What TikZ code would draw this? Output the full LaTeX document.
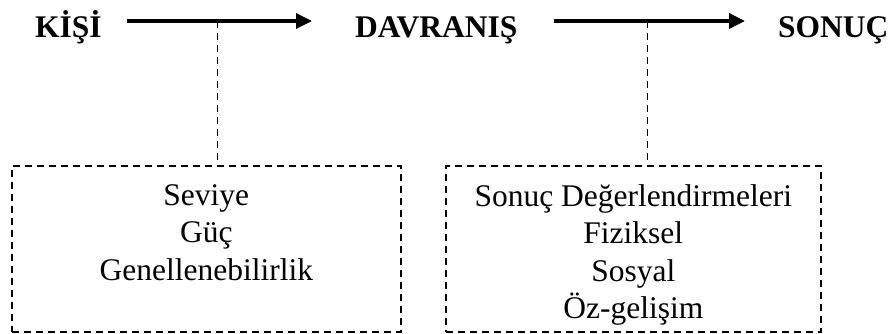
\documentclass[tikz,border=0pt]{standalone}
\usepackage{fontspec}
\setmainfont{Liberation Serif}
\usetikzlibrary{arrows.meta}
\begin{document}
\begin{tikzpicture}[x=1pt,y=-1pt,
  stage/.style={font=\fontsize{31.5}{37}\selectfont\bfseries, inner sep=0pt, anchor=base west},
  flow/.style={line width=3.4pt, -{Triangle[length=16pt,width=15pt]}},
  link/.style={line width=1.6pt, dash pattern=on 7pt off 5pt},
  groupbox/.style={draw, line width=1.6pt, dash pattern=on 7pt off 5pt, inner sep=0pt, anchor=north west},
  items/.style={font=\fontsize{31.5}{37.5}\selectfont, align=center, inner sep=0pt, anchor=north}]
  \useasboundingbox (0,0) rectangle (892,333);

  % stages of the chain
  \node[stage] (kisi) at (35,37) {KİŞİ};
  \node[stage] (davranis) at (355,37) {DAVRANIŞ};
  \node[stage] (sonuc) at (778,37) {SONUÇ};

  % dashed boxes of factors
  \node[groupbox, minimum width=389pt, minimum height=166pt] (kisibox) at (11,165) {};
  \node[groupbox, minimum width=375pt, minimum height=166pt] (sonucbox) at (445,165) {};

  \node[items] (kisitext) at ([yshift=-19pt]kisibox.north) {Seviye\\Güç\\Genellenebilirlik};
  \node[items] (sonuctext) at ([yshift=-19pt]sonucbox.north) {Sonuç Değerlendirmeleri\\Fiziksel\\Sosyal\\Öz-gelişim};

  % arrows between the stages
  \coordinate (a1s) at ([xshift=25pt]kisi.base east |- 0,21);
  \coordinate (a1e) at ([xshift=-43pt]davranis.base west |- 0,21);
  \coordinate (a2s) at ([xshift=36pt]davranis.base east |- 0,21);
  \coordinate (a2e) at ([xshift=-33pt]sonuc.base west |- 0,21);
  \draw[flow] (a1s) -- coordinate[pos=0.49] (m1) (a1e);
  \draw[flow] (a2s) -- coordinate[pos=0.49] (m2) (a2e);

  % links from the arrows down to the boxes
  \draw[link] (m1) -- (m1 |- kisibox.north);
  \draw[link] (m2) -- (m2 |- sonucbox.north);
\end{tikzpicture}
\end{document}
